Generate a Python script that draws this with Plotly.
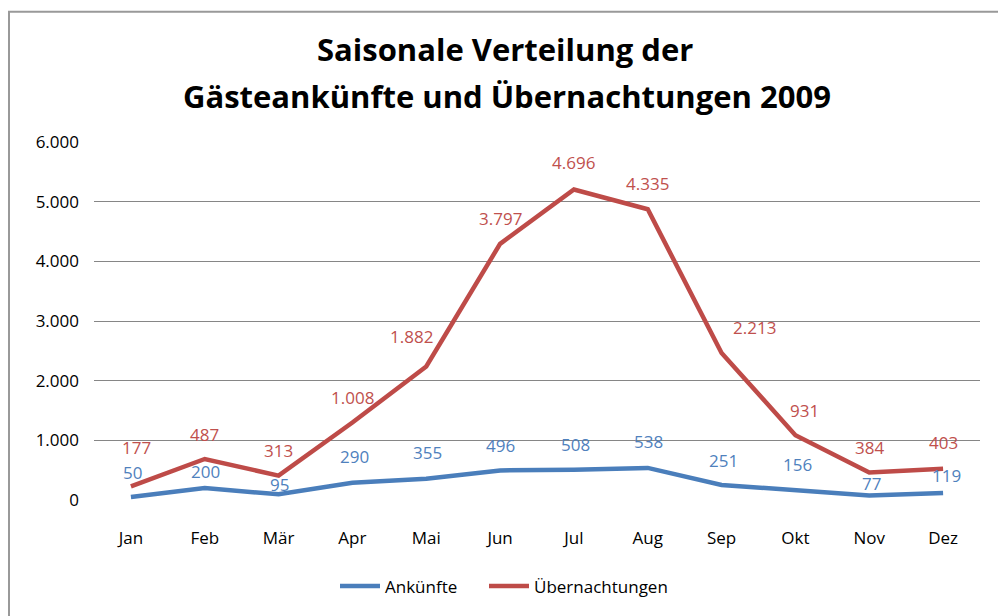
import plotly.graph_objects as go

months = ["Jan", "Feb", "Mär", "Apr", "Mai", "Jun", "Jul", "Aug", "Sep", "Okt", "Nov", "Dez"]
ankuenfte = [50, 200, 95, 290, 355, 496, 508, 538, 251, 156, 77, 119]
uebernachtungen = [177, 487, 313, 1008, 1882, 3797, 4696, 4335, 2213, 931, 384, 403]
y_ticks = [0, 1000, 2000, 3000, 4000, 5000, 6000]
y_ticktext = ["0", "1.000", "2.000", "3.000", "4.000", "5.000", "6.000"]

# label placement offsets (pixels), as in the original chart
ank_dx = [2, 1, 1, 2, 1, 0, 2, 1, 2, 2, 2, 3]
ank_dy = [25, 17, 10, 26, 26, 25, 25, 26, 25, 26, 12, 17]
ueb_dx = [6, 0, 0, 0, -15, 0, 0, 0, 33, 9, 0, 0]
ueb_dy = [39, 25, 25, 25, 30, 25, 27, 26, 25, 25, 25, 26]

BLUE = "#4A7EBB"
RED = "#BE4B48"
BLUE_T = "#4F81BD"
RED_T = "#C0504D"
FONT = "Open Sans, Lato, sans-serif"


def de(v):
    return f"{v:,}".replace(",", ".")


fig = go.Figure()
fig.add_trace(go.Scatter(x=months, y=ankuenfte, name="Ankünfte", mode="lines",
                         stackgroup="one", fill="none", legend="legend",
                         line=dict(color=BLUE, width=4.5)))
fig.add_trace(go.Scatter(x=months, y=uebernachtungen, name="Übernachtungen", mode="lines",
                         stackgroup="one", fill="none", legend="legend2",
                         line=dict(color=RED, width=4.5)))

annotations = []
for i, m in enumerate(months):
    annotations.append(dict(x=m, y=ankuenfte[i], xref="x", yref="y", text=de(ankuenfte[i]),
                            showarrow=False, xshift=ank_dx[i], yshift=ank_dy[i],
                            xanchor="center", yanchor="middle",
                            font=dict(family=FONT, size=17, color=BLUE_T)))
    annotations.append(dict(x=m, y=ankuenfte[i] + uebernachtungen[i], xref="x", yref="y",
                            text=de(uebernachtungen[i]),
                            showarrow=False, xshift=ueb_dx[i], yshift=ueb_dy[i],
                            xanchor="center", yanchor="middle",
                            font=dict(family=FONT, size=17, color=RED_T)))

# title lines
annotations.append(dict(x=0.464, y=(502 - 48) / 360, xref="paper", yref="paper", showarrow=False,
                        xanchor="center", yanchor="middle",
                        text="<b>Saisonale Verteilung der</b>",
                        font=dict(family=FONT, size=31, color="#000000")))
annotations.append(dict(x=0.466, y=(502 - 96) / 360, xref="paper", yref="paper", showarrow=False,
                        xanchor="center", yanchor="middle",
                        text="<b>Gästeankünfte und Übernachtungen 2009</b>",
                        font=dict(family=FONT, size=31, color="#000000")))

legend_style = dict(orientation="h", yanchor="middle", xanchor="left",
                    font=dict(family=FONT, size=17, color="#000000"), itemwidth=40,
                    bgcolor="rgba(0,0,0,0)")

fig.update_layout(
    width=998, height=616,
    margin=dict(l=94, r=18, t=142, b=114),
    paper_bgcolor="white", plot_bgcolor="white",
    font=dict(family=FONT, size=17, color="#000000"),
    showlegend=True,
    legend=dict(x=(335 - 94) / 886, y=(502 - 589) / 360, **legend_style),
    legend2=dict(x=(484 - 94) / 886, y=(502 - 589) / 360, **legend_style),
    annotations=annotations,
    shapes=[dict(type="rect", xref="paper", yref="paper",
                 x0=(9 - 94) / 886, x1=1.2, y0=-0.6, y1=(502 - 11) / 360,
                 line=dict(color="#999999", width=2), fillcolor="rgba(0,0,0,0)", layer="below")],
    xaxis=dict(type="category", range=[-0.5, 11.5], showgrid=False, zeroline=False,
               showline=False, ticks="", ticklabelstandoff=26, automargin=False,
               tickfont=dict(family=FONT, size=17, color="#000000")),
    yaxis=dict(range=[0, 6000], tickvals=y_ticks, ticktext=y_ticktext,
               showgrid=True, gridcolor="#868686", gridwidth=1, zeroline=False,
               showline=False, ticks="", ticklabelstandoff=14, automargin=False,
               tickfont=dict(family=FONT, size=17, color="#000000")),
    hovermode=False,
)

fig.write_html("out.html", config={"displayModeBar": False},
               post_script="document.body.style.margin='0';document.body.style.overflow='hidden';")
